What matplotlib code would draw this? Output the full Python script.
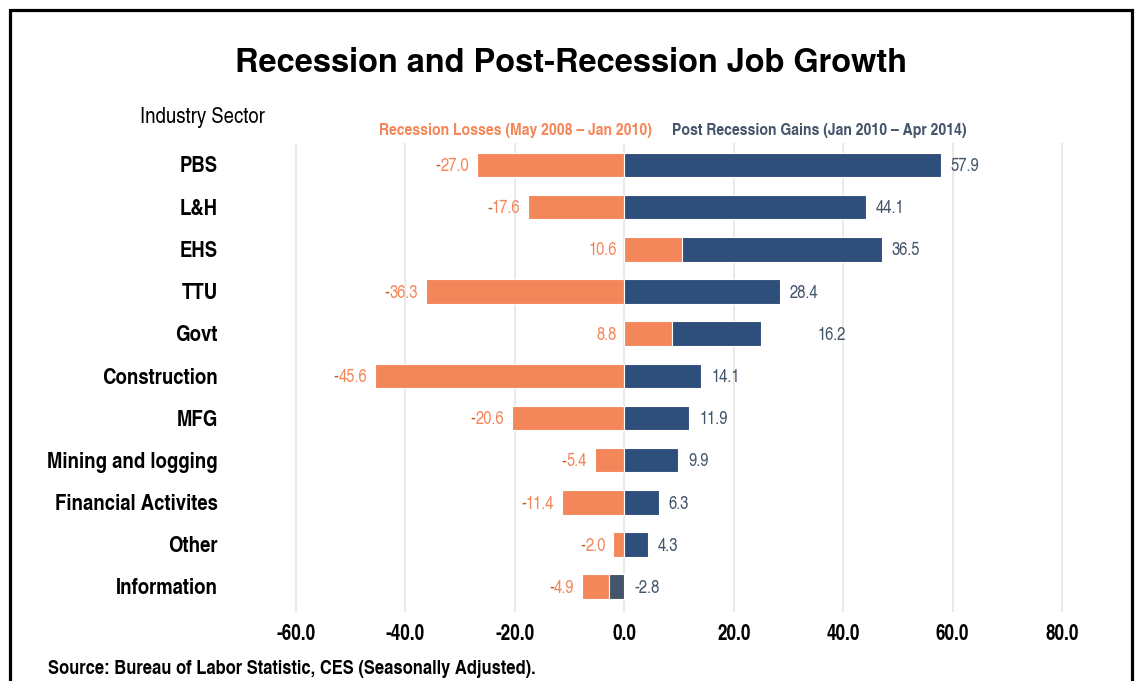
import matplotlib
matplotlib.use("Agg")
import matplotlib.pyplot as plt
from matplotlib.lines import Line2D
import numpy as np

# ---------------- data ----------------
categories = ["PBS", "L&H", "EHS", "TTU", "Govt", "Construction", "MFG",
              "Mining and logging", "Financial Activites", "Other", "Information"]
losses = [-27.0, -17.6, 10.6, -36.3, 8.8, -45.6, -20.6, -5.4, -11.4, -2.0, -4.9]
gains = [57.9, 44.1, 36.5, 28.4, 16.2, 14.1, 11.9, 9.9, 6.3, 4.3, -2.8]
xticks = [-60, -40, -20, 0, 20, 40, 60, 80]
series_names = ["Recession Losses (May 2008 \u2013 Jan 2010)",
                "Post Recession Gains (Jan 2010 \u2013 Apr 2014)"]
title = "Recession and Post-Recession Job Growth"
source = "Source: Bureau of Labor Statistic, CES (Seasonally Adjusted)."

# ---------------- style ----------------
ORANGE = "#F4875A"
NAVY = "#2E4E7B"
SLATE = "#44546A"
MINUS_DARK = "#C5581C"
GRID = "#E3E3E3"
NARROW = ["TeX Gyre Heros Cn", "Liberation Sans", "DejaVu Sans"]
WIDE = ["TeX Gyre Heros", "Liberation Sans", "DejaVu Sans"]
plt.rcParams["axes.unicode_minus"] = False

W, H = 1141, 681
fig = plt.figure(figsize=(W / 100, H / 100), dpi=100)
fig.patch.set_facecolor("white")

# axes placement (pixels)
xmin, xmax = -62, 82
px_left, px_right = 285.06, 1072.94
px_top, px_bottom = 143.0, 612.0
ax = fig.add_axes([px_left / W, 1 - px_bottom / H,
                   (px_right - px_left) / W, (px_bottom - px_top) / H])
ax.set_xlim(xmin, xmax)
n = len(categories)
ax.set_ylim(n - 0.5 + 0.1, -0.52)
y = np.arange(n)

for s in ax.spines.values():
    s.set_visible(False)
ax.set_xticks(xticks)
ax.set_xticklabels([f"{v:.1f}" for v in xticks], family=NARROW,
                   fontweight="bold", fontsize=15)
ax.tick_params(axis="x", length=0, pad=9)
ax.set_yticks([])
ax.grid(axis="x", color=GRID, lw=1.1, zorder=0)
ax.set_axisbelow(True)

bar_h = 0.58
for i in range(n):
    lo, ga = losses[i], gains[i]
    lo_base = ga if (lo < 0 and ga < 0) else 0
    ga_base = lo if (lo > 0 and ga > 0) else 0
    ax.barh(y[i], lo, left=lo_base, height=bar_h, color=ORANGE,
            edgecolor="white", lw=0.8, zorder=2)
    ax.barh(y[i], ga, left=ga_base, height=bar_h,
            color=NAVY if ga >= 0 else SLATE,
            edgecolor="white", lw=0.8, zorder=2)

    # orange label left of the bar group
    left_end = min(0, lo_base + lo, ga_base + ga, lo_base)
    txt = f"{abs(lo):.1f}"
    t = ax.annotate(txt, xy=(left_end, y[i]), xytext=(-5.5, -1.2),
                    textcoords="offset points", ha="right", va="center",
                    color=ORANGE, fontsize=13, family=NARROW)
    if lo < 0:
        ax.annotate("-", xy=(0, 0), xycoords=t, ha="right", va="bottom",
                    color=MINUS_DARK, fontsize=13, family=NARROW)

    # navy label right of the bar group
    right_end = max(0, ga_base + ga, lo_base + lo)
    extra = 34 if categories[i] == "Govt" else 0
    ax.annotate(f"{ga:.1f}", xy=(right_end, y[i]), xytext=(7 + extra, -1.2),
                textcoords="offset points", ha="left", va="center",
                color=SLATE, fontsize=13, family=NARROW)

# category labels
for i, c in enumerate(categories):
    fig.text(218 / W, 1 - (167 + i * 42.2) / H, c, ha="right", va="center",
             fontsize=16.3, fontweight="bold", family=NARROW)

# title & header texts
fig.text(571.5 / W, 1 - 63 / H, title, ha="center", va="center",
         fontsize=23.4, fontweight="bold", family=WIDE)
fig.text(140 / W, 1 - 118 / H, "Industry Sector", ha="left", va="center",
         fontsize=16.3, family=NARROW)
fig.text(652 / W, 1 - 131 / H, series_names[0], ha="right", va="center",
         fontsize=12.25, fontweight="bold", color=ORANGE, family=NARROW)
fig.text(672 / W, 1 - 131 / H, series_names[1], ha="left", va="center",
         fontsize=12.25, fontweight="bold", color=SLATE, family=NARROW)
fig.text(48 / W, 1 - 669 / H, source, ha="left", va="center",
         fontsize=14.5, fontweight="bold", family=NARROW)

# frame (left, top, right)
fig.add_artist(Line2D([9.5 / W, 9.5 / W, 1132 / W, 1132 / W],
                      [-0.05, 1 - 10 / H, 1 - 10 / H, -0.05],
                      color="black", lw=2.3, transform=fig.transFigure,
                      solid_joinstyle="miter"))

fig.savefig("out.png", dpi=100)
